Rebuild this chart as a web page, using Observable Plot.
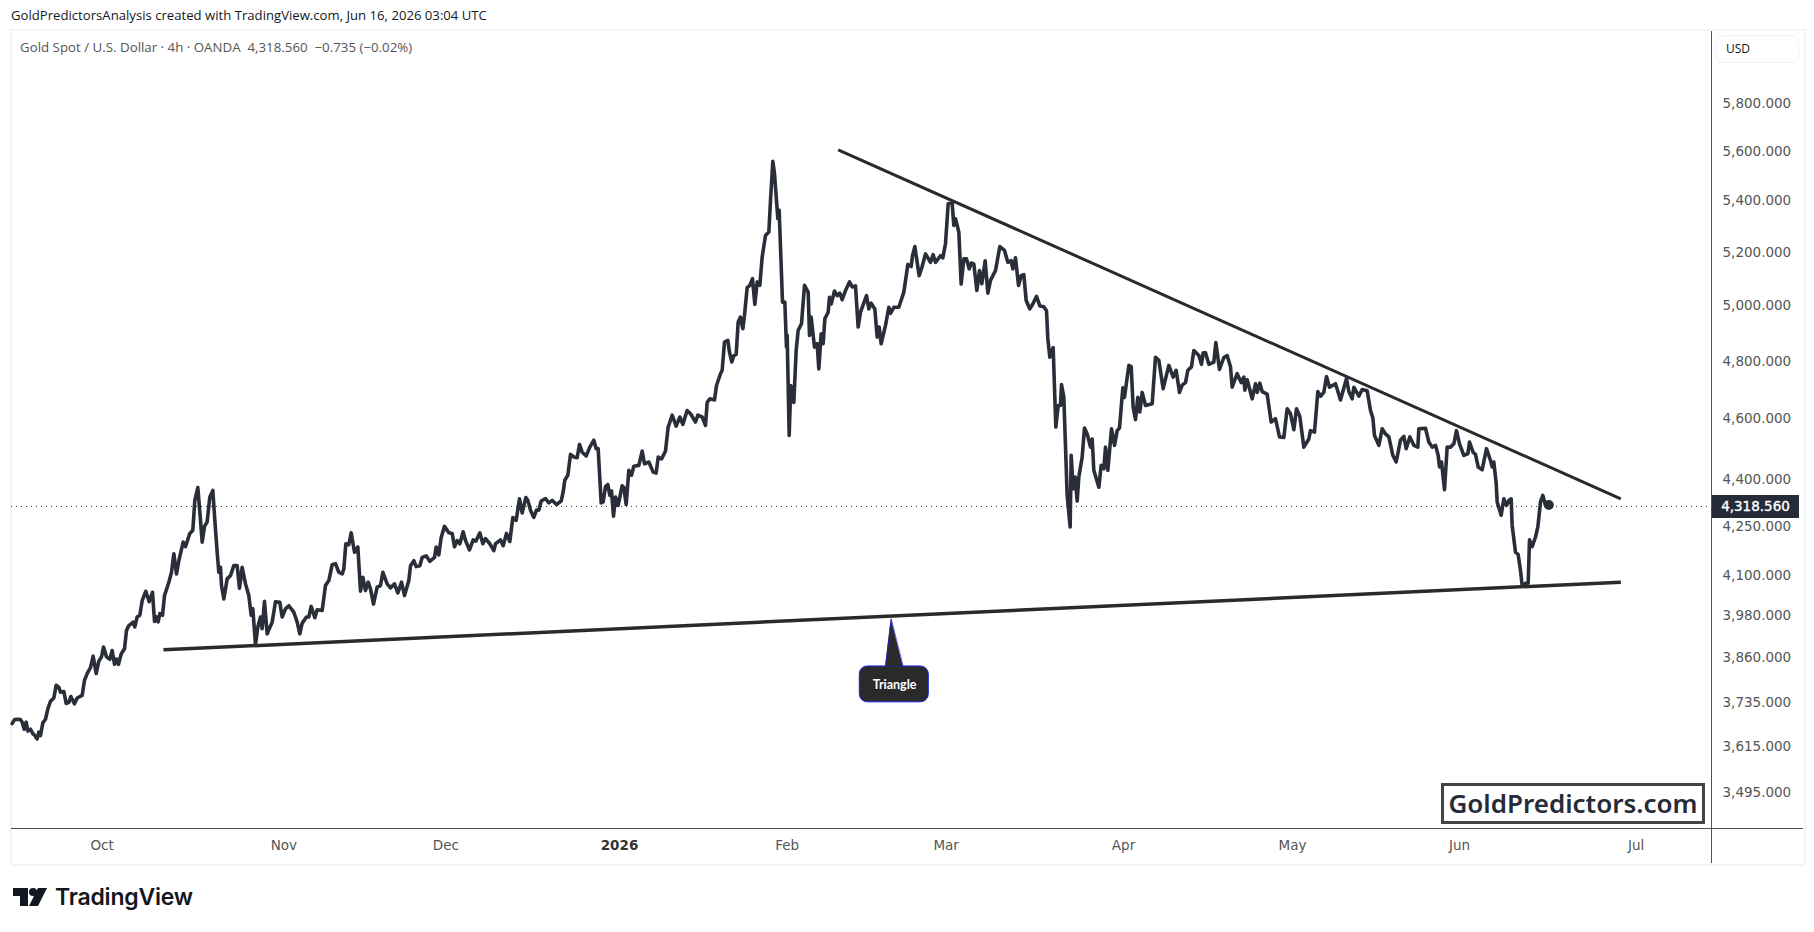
<!DOCTYPE html>
<html>
<head>
<meta charset="utf-8">
<script src="https://cdn.jsdelivr.net/npm/d3@7"></script>
<script src="https://cdn.jsdelivr.net/npm/@observablehq/plot@0.6"></script>
<style>
html,body{margin:0;padding:0;background:#fff;width:1814px;height:932px;overflow:hidden}
#page{position:relative;width:1814px;height:932px;font-family:"Open Sans",sans-serif}
#page>div,#page>svg.logo{position:absolute}
#chart{left:0;top:0}
#chart svg{display:block;background:transparent}
</style>
</head>
<body>
<div id="page">
  <div style="left:10px;top:29px;width:1792px;height:833px;border:2px solid #f4f4f4"></div>
  <div id="chart"></div>
  <div style="left:1711px;top:31px;width:1px;height:832px;background:#50535e"></div>
  <div style="left:11px;top:828px;width:1792px;height:1px;background:#50535e"></div>
  <div style="left:11px;top:7px;font-size:13.15px;color:#131722;white-space:nowrap;line-height:16px">GoldPredictorsAnalysis created with TradingView.com, Jun 16, 2026 03:04 UTC</div>
  <div style="left:20px;top:39px;font-size:13.3px;color:#555;white-space:nowrap;line-height:16px">Gold Spot / U.S. Dollar · 4h · OANDA&nbsp; 4,318.560&nbsp; −0.735 (−0.02%)</div>
  <div style="left:1716px;top:35px;width:81px;height:26px;border:1px solid #f0f3fa;border-radius:6px;font-size:12px;line-height:26px;color:#131722;text-indent:9px">USD</div>
  <div style="left:1712px;top:495px;width:87px;height:23px;background:#252b38;color:#fff;font:400 13.5px/22px 'DejaVu Sans',sans-serif;-webkit-text-stroke:.35px #fff;text-align:center">4,318.560</div>
  <div style="left:1441px;top:783px;width:258px;height:35px;border:3px solid #444;background:#fff;color:#252b38;font:600 26px/35px 'Noto Sans',sans-serif;text-align:center;white-space:nowrap">GoldPredictors.com</div>
  <svg class="logo" style="left:13px;top:887px" width="36" height="20" viewBox="0 0 36 20">
    <path d="M0 1H15V19H7V9H0Z M25 1H34L25 19H16Z" fill="#131722"/><circle cx="20" cy="5" r="4" fill="#131722"/>
  </svg>
  <div style="left:55px;top:883px;font:600 23px/28px Inter,sans-serif;color:#131722;letter-spacing:-.2px">TradingView</div>
</div>
<script>
// Position along the time axis is the count of 4h bars since the left edge (weekends collapse, as on the source chart).
const bars = [0.5,2.25,4.75,6.75,8.25,9.5,11,12.25,14.25,16,17.5,19.25,20.5,21.75,23.5,25.5,27.25,29.25,31.75,33.5,35.5,36.75,39.25,41,43,44.5,47.25,49.25,53,54.75,56.75,59.25,61.25,63.5,65.5,67.5,69,71.25,73.75,75.5,77.25,78.75,80.25,82.25,84.75,86.25,88,91.25,92.5,94.25,96.25,98,100.75,103.25,105.75,107.25,108.75,110,111.25,113.25,114.75,118,120,121.75,123.75,125.5,128.75,130.5,133.75,136,137.5,139.75,141.75,143,144.75,146.75,148.75,151,152.5,154.25,155.5,156.75,157.5,159.25,161.75,164.25,166.75,169.25,171,173,175.5,178,179.75,181,183,184.75,186.75,188,189.75,191.75,195.5,198,201.25,203,205.5,208,211.75,214.25,216.25,218,221.25,223,224.75,227.5,229.25,233,235.5,238,240.5,243,245.5,248,249.25,250.75,253,254.75,257.25,259.75,261.75,263.5,265.5,267.5,269.25,271.5,274.25,276.75,278.5,281.75,284.25,287.25,289.75,292.5,294.75,298,299.25,301.75,303.5,306.25,308,311,313.75,317.25,318.5,320.5,322.25,324.75,328,330.5,332.25,334.25,336.25,338.75,340.5,343.5,346.25,348.25,351.25,353.5,355.5,358.75,361.75,363,366.75,368.75,371.25,373.75,376,378.5,381,383,385.75,387.25,389.25,391.75,393.75,395.5,397.25,400.5,403,405.5,408.75,412.25,413.75,415,417.25,419.25,422.25,424.25,426,428,431,433.75,436.75,438.5,440,442.25,443.75,445.5,447.25,448.75,450,451.5,453,455,458,459.25,461,463,465,466.75,470.5,473,474.75,478,481.25,483.5,485,487.5,490.5,492.5,495.5,498.5,501.25,503.5,506.75,509.25,513,514.75,518,520.5,521.75,523.75,527.25,528.75,531.75,533,534.75,537.25,538.5,540.25,541.75,543.5,545,546.75,548.5,549.75,551.75,553.75,555.75,557.5,559.25,561.25,563,565.5,568,569.25,571,572.25,574.75,575.75,578.25,580,581.25,581.75,583.25,584.5,586.75,588.5,590,592.5,594.75,597.5,598.5,599.75,602.25,604.25,605.5,607.25,608.75,610,612.5,613.5,614.75,617.25,619.25,621.25,623,625.5,628.5,630.5,633,635,636.75,641.25,643,644.75,647.5,649.25,650.75,652.25,655.5,658,659.25,661.75,665.5,669.25,672.25,674.75,675.75,677.5,678.75,680.75,683,685.5,689.25,691.25,693,696.75,698.5,700.5,702.5,705.5,706.75,708,710.5,712.25,714.25,716.25,718.25,719.75,721.75,724,726,727.75,730.25,732.25,734.25,738,741.25,744.75,747.25,749.75,751,753,755.25,757.25,759.25,761,763.75,766,768.75,771.25,774.25,776.25,777.25,778.75,781.25,783.25,785,786.75,787.5,789.25,791.75,794,794.75,796.25,797.75,799.25,800.5,803,804.75,806.75,809.25,810.5,811.75,815.5,817.25,819.25,820.5,822.25,825,827.25,829.25,831,833.5,834.75,838,839.75,841.25,843,844.75,846.25,848,850.5,855.5,858,860.5,863.75,868,871.25,873.5,876,878,880.5,882.25,885,886.75,890.5,892.5,893.75,895.5,898,901.75,903.25,906,909.25,911.75,914.25,915.5,919.25,922.25,924.25,925,926.75,930.5,933,934.25,936.25,938,941.75,944.75,948,951,954.25,956.75,959.25,961.75,963.75,966.25,969.25,973,974.25,977.25,979.75,981.75,984.25,986.25,988.5,993,996.75,1001.25,1003,1005.5,1006.75,1010.5,1013,1016.75,1019.25,1021,1022.25,1025.5,1028,1030.5,1033,1036,1038.5,1041.75,1044.25,1046,1048.75,1051.75,1054.75,1055.5,1060.5,1063,1065.5,1068,1070,1071,1072.5,1074.75,1076.75,1079.25,1081.75,1083.75,1086,1089.25,1092.25,1093.5,1096.25,1098,1100,1103,1106.25,1109.25,1110.5,1111.75,1113.5,1114.25,1117.25,1119.25,1121.25,1123,1124.75,1125.5,1128,1130,1131.75,1133,1135.5,1137.5,1138.5,1140.5,1143,1144.75,1146.75,1148.5,1150.5,1153];
const closes = [3677,3688,3689,3688,3679,3662,3681,3657,3662,3650,3645,3636,3654,3645,3679,3689,3717,3738,3747,3782,3777,3763,3765,3732,3735,3751,3731,3747,3754,3796,3815,3832,3864,3815,3850,3862,3890,3862,3855,3880,3841,3856,3841,3870,3885,3938,3952,3962,3948,3977,3982,4025,4053,4022,4050,3964,3977,3963,3987,3982,4040,4080,4110,4166,4105,4145,4202,4188,4229,4239,4333,4374,4270,4202,4251,4265,4344,4365,4270,4171,4110,4125,4070,4030,4090,4100,4130,4130,4062,4125,4075,4040,3982,4001,3897,3948,3977,3943,4023,3928,3962,4022,4020,3977,4001,4010,3991,3962,3928,3959,3977,3977,4008,3975,3998,3996,4070,4085,4133,4136,4110,4105,4120,4197,4194,4231,4171,4187,4053,4095,4055,4080,4060,4015,4065,4070,4110,4075,4063,4075,4048,4080,4040,4085,4130,4145,4127,4130,4155,4160,4143,4155,4187,4163,4216,4251,4231,4229,4188,4207,4197,4234,4207,4178,4209,4205,4231,4197,4213,4197,4176,4197,4209,4191,4229,4204,4279,4270,4338,4293,4342,4333,4302,4279,4302,4302,4331,4339,4325,4333,4320,4331,4360,4398,4414,4482,4473,4471,4515,4489,4477,4506,4529,4501,4501,4325,4328,4377,4384,4349,4363,4283,4344,4317,4380,4375,4320,4430,4414,4443,4446,4493,4451,4457,4424,4421,4473,4467,4493,4573,4613,4576,4607,4582,4629,4618,4590,4613,4607,4579,4657,4669,4665,4715,4756,4768,4868,4874,4832,4797,4820,4824,4940,4958,4916,4965,5067,5075,5100,5005,5088,5075,5182,5265,5278,5402,5560,5510,5330,5363,5013,5013,4850,4892,4545,4715,4657,4838,4910,4934,5075,5050,4892,4958,4850,4862,4773,4898,4862,4952,4976,5031,5006,5054,5037,5046,5022,5056,5088,5069,5073,4922,4976,5037,4988,5009,4988,4886,4922,4862,4928,4994,4972,4994,4994,5050,5154,5146,5187,5222,5179,5111,5146,5194,5162,5191,5162,5187,5179,5233,5389,5391,5304,5330,5278,5080,5175,5175,5137,5159,5156,5056,5131,5081,5168,5046,5094,5131,5222,5207,5162,5168,5137,5179,5075,5111,5115,5019,4988,5006,5034,4999,4996,4981,4880,4814,4848,4573,4646,4646,4718,4674,4349,4249,4479,4370,4408,4331,4408,4473,4570,4550,4506,4533,4430,4375,4446,4435,4506,4430,4567,4512,4561,4570,4707,4674,4785,4781,4640,4598,4674,4624,4691,4646,4652,4814,4803,4704,4785,4744,4768,4691,4716,4725,4768,4780,4838,4820,4789,4830,4830,4789,4797,4866,4771,4813,4820,4780,4709,4756,4725,4744,4699,4735,4669,4721,4691,4723,4694,4685,4590,4601,4540,4538,4635,4618,4564,4635,4609,4506,4533,4561,4556,4694,4678,4691,4746,4709,4721,4665,4739,4694,4669,4709,4678,4701,4697,4629,4604,4545,4512,4567,4550,4540,4479,4457,4529,4542,4501,4540,4512,4506,4567,4569,4523,4506,4512,4479,4441,4457,4367,4506,4506,4517,4561,4517,4479,4484,4523,4489,4482,4441,4432,4501,4462,4441,4457,4388,4328,4286,4338,4317,4333,4338,4254,4171,4164,4115,4070,4077,4077,4209,4188,4218,4249,4328,4349,4317,4318.56];
const lastPrice = 4318.56;
const upperTrend = {bars:[620,1207], prices:[5607,4338]};
const lowerTrend = {bars:[114,1207], prices:[3882,4080]};
const calloutBox = {bars:[636.2,688], prices:[3735,3835]};
const calloutPointer = {bars:[655.5,659.8,668.8], prices:[3835,3972,3835]};
const calloutLabel = {text:"Triangle", bar:662.3, price:3784};
const priceTicks = [5800,5600,5400,5200,5000,4800,4600,4400,4250,4100,3980,3860,3735,3615,3495];
const monthTicks = [68,204.3,325.8,581.8,701,834,960.8,1086,1218.5];
const monthLabels = ["Oct","Nov","Dec","Feb","Mar","Apr","May","Jun","Jul"];
const yearTick = [456];
const yearLabel = "2026";

const series = bars.map((b,i)=>({bar:b,price:closes[i]}));
const pts = (o)=>o.bars.map((b,i)=>({bar:b,price:o.prices[i]}));
const ink = "#2a2e39";
const axisFont = "DejaVu Sans";

const chart = Plot.plot({
  width:1814, height:932,
  marginLeft:11, marginRight:103, marginTop:31, marginBottom:104,
  style:{background:"transparent",fontFamily:axisFont,overflow:"visible"},
  x:{type:"linear",domain:[0,1275],range:[11,1711]},
  y:{type:"log",domain:[3495,5800],range:[792.2,103.3]},
  marks:[
    Plot.axisY({anchor:"right",ticks:priceTicks,tickFormat:d3.format(",.3f"),tickSize:0,tickPadding:11,fontSize:13.5,fill:"#555",label:null}),
    Plot.axisX({anchor:"bottom",ticks:monthTicks,tickFormat:(d)=>monthLabels[monthTicks.indexOf(d)],tickSize:0,tickPadding:12,fontSize:13.5,fill:"#555",label:null}),
    Plot.axisX({anchor:"bottom",ticks:yearTick,tickFormat:()=>yearLabel,tickSize:0,tickPadding:12,fontSize:13.5,fontWeight:"bold",fill:"#333",label:null}),
    Plot.ruleY([lastPrice],{stroke:ink,strokeWidth:1,strokeDasharray:"1 4",dy:1.5}),
    Plot.line(pts(lowerTrend),{x:"bar",y:"price",stroke:"#2a2a2a",strokeWidth:3.5,strokeLinecap:"butt"}),
    Plot.line(pts(upperTrend),{x:"bar",y:"price",stroke:"#2a2a2a",strokeWidth:3,strokeLinecap:"butt"}),
    Plot.line(series,{x:"bar",y:"price",stroke:ink,strokeWidth:3.6,strokeLinejoin:"round",strokeLinecap:"round"}),
    Plot.dot([series[series.length-1]],{x:"bar",y:"price",r:5,fill:ink}),
    Plot.rect([calloutBox],{x1:(d)=>d.bars[0],x2:(d)=>d.bars[1],y1:(d)=>d.prices[0],y2:(d)=>d.prices[1],rx:8,fill:"#2a2a2a",stroke:"#2424e8",strokeWidth:1}),
    Plot.areaY(pts(calloutPointer),{x:"bar",y1:()=>calloutPointer.prices[0],y2:"price",fill:"#2a2a2a"}),
    Plot.line(pts(calloutPointer),{x:"bar",y:"price",stroke:"#2424e8",strokeWidth:.7}),
    Plot.text([calloutLabel],{x:"bar",y:"price",text:"text",fill:"#fff",fontSize:12.5,fontWeight:"bold",fontFamily:"Lato"})
  ]
});
document.getElementById("chart").appendChild(chart);
</script>
</body>
</html>
